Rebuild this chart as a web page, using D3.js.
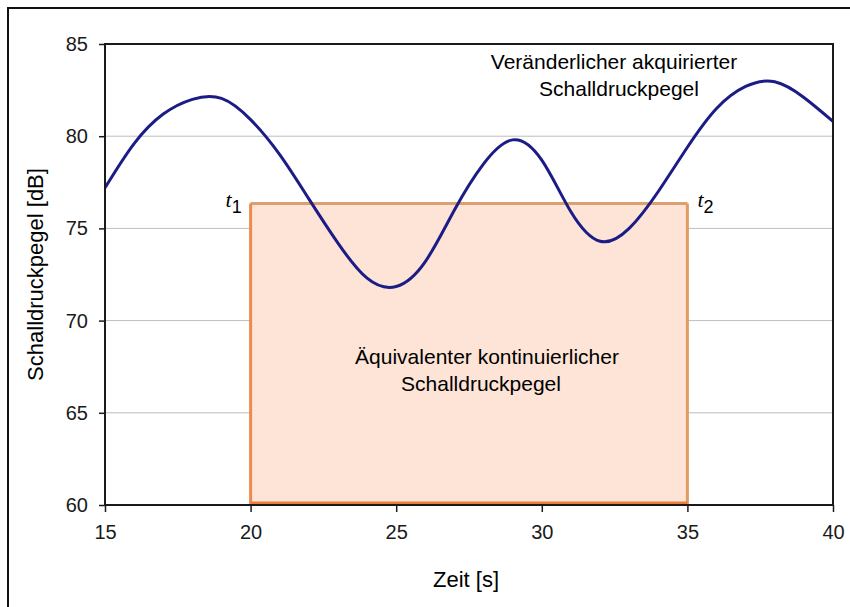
<!DOCTYPE html>
<html><head><meta charset="utf-8">
<script src="https://cdn.jsdelivr.net/npm/d3@7"></script>
<style>body{margin:0;background:#fff}svg{display:block}text{font-family:"Liberation Sans",Arial,sans-serif}</style>
</head><body>
<svg id="c" width="850" height="607"></svg>
<script>
const timeS = [15, 16, 17, 18, 19, 20, 21, 22, 23, 24, 25, 26, 27, 28, 29, 30, 31, 32, 33, 34, 35, 36, 37, 38, 39, 40];
const levelDb = [77.2, 79.6, 81.2, 82.0, 82.05, 80.9, 79.0, 76.6, 74.2, 72.3, 71.85, 73.2, 76.0, 78.5, 79.8, 78.7, 75.9, 74.3, 75.0, 77.0, 79.4, 81.5, 82.7, 82.95, 82.1, 80.8];
const xTicks = [15, 20, 25, 30, 35, 40];
const yTicks = [60, 65, 70, 75, 80, 85];
const leqStart = 20, leqEnd = 35, leqLevel = 76.35, yMin = 60;

const svg = d3.select("#c");
const L = 105, R = 833, T = 44, B = 505;
const x = d3.scaleLinear().domain([15, 40]).range([L, R]);
const y = d3.scaleLinear().domain([60, 85]).range([B, T]);

// outer frame
svg.append("rect").attr("x", 8).attr("y", 8).attr("width", 860).attr("height", 620)
  .attr("fill", "none").attr("stroke", "#111").attr("stroke-width", 2);

// gridlines
svg.append("g").selectAll("line").data(yTicks.filter(v => v > 60 && v < 85)).join("line")
  .attr("x1", L).attr("x2", R).attr("y1", d => y(d)).attr("y2", d => y(d))
  .attr("stroke", "#bdbdbd").attr("stroke-width", 1);

// Leq rectangle
const rx = x(leqStart), rw = x(leqEnd) - x(leqStart), ry = y(leqLevel), rh = y(yMin) - y(leqLevel);
svg.append("rect").attr("x", rx).attr("y", ry).attr("width", rw).attr("height", rh)
  .attr("fill", "#fde4d6").attr("stroke", "none");
svg.append("line").attr("x1", rx).attr("x2", rx + rw).attr("y1", ry).attr("y2", ry).attr("stroke", "#dca070").attr("stroke-width", 3);
svg.append("line").attr("x1", rx).attr("x2", rx).attr("y1", ry).attr("y2", ry + rh).attr("stroke", "#ee8a4e").attr("stroke-width", 3);
svg.append("line").attr("x1", rx + rw).attr("x2", rx + rw).attr("y1", ry).attr("y2", ry + rh).attr("stroke", "#e29a62").attr("stroke-width", 3);
svg.append("line").attr("x1", rx).attr("x2", rx + rw).attr("y1", ry + rh - 2).attr("y2", ry + rh - 2).attr("stroke", "#ec7e3a").attr("stroke-width", 3);

// curve
const pts = timeS.map((t, i) => [t, levelDb[i]]);
svg.append("path").datum(pts)
  .attr("d", d3.line().x(d => x(d[0])).y(d => y(d[1])).curve(d3.curveNatural))
  .attr("fill", "none").attr("stroke", "#1c1c86").attr("stroke-width", 3);

// plot border
svg.append("rect").attr("x", L).attr("y", T).attr("width", R - L).attr("height", B - T)
  .attr("fill", "none").attr("stroke", "#1a1a1a").attr("stroke-width", 2);

// axes
const yAxis = svg.append("g").attr("transform", `translate(${L},0)`)
  .call(d3.axisLeft(y).tickValues(yTicks).tickSize(6).tickPadding(11));
const xAxis = svg.append("g").attr("transform", `translate(0,${B})`)
  .call(d3.axisBottom(x).tickValues(xTicks).tickSize(7).tickPadding(13));
[yAxis, xAxis].forEach(a => {
  a.select(".domain").remove();
  a.selectAll("line").attr("stroke", "#1a1a1a").attr("stroke-width", 1.5);
  a.selectAll("text").attr("font-size", 20).attr("fill", "#1a1a1a")
    .attr("font-family", "'Liberation Sans',Arial,sans-serif");
});

// axis titles
svg.append("text").attr("x", x(27.5) - 3).attr("y", 587).attr("text-anchor", "middle")
  .attr("font-size", 22).text("Zeit [s]");
svg.append("text").attr("transform", `translate(43,${(T + B) / 2}) rotate(-90)`)
  .attr("text-anchor", "middle").attr("font-size", 22).text("Schalldruckpegel [dB]");

// annotations
const ann1 = svg.append("text").attr("text-anchor", "middle").attr("font-size", 21);
ann1.append("tspan").attr("x", 614).attr("y", 69).text("Veränderlicher akquirierter");
ann1.append("tspan").attr("x", 619).attr("y", 96).text("Schalldruckpegel");
const ann2 = svg.append("text").attr("text-anchor", "middle").attr("font-size", 21);
ann2.append("tspan").attr("x", 487).attr("y", 364).text("Äquivalenter kontinuierlicher");
ann2.append("tspan").attr("x", 481).attr("y", 391).text("Schalldruckpegel");

function tLabel(px, py, sub) {
  const t = svg.append("text").attr("x", px).attr("y", py).attr("font-size", 22);
  t.append("tspan").attr("font-family", "'Liberation Serif',serif").attr("font-style", "italic").text("t");
  t.append("tspan").attr("dy", 6).attr("font-size", 18).text(sub);
}
tLabel(x(leqStart) - 25, y(leqLevel) + 3, "1");
tLabel(x(leqEnd) + 10, y(leqLevel) + 3, "2");
</script>
</body></html>
